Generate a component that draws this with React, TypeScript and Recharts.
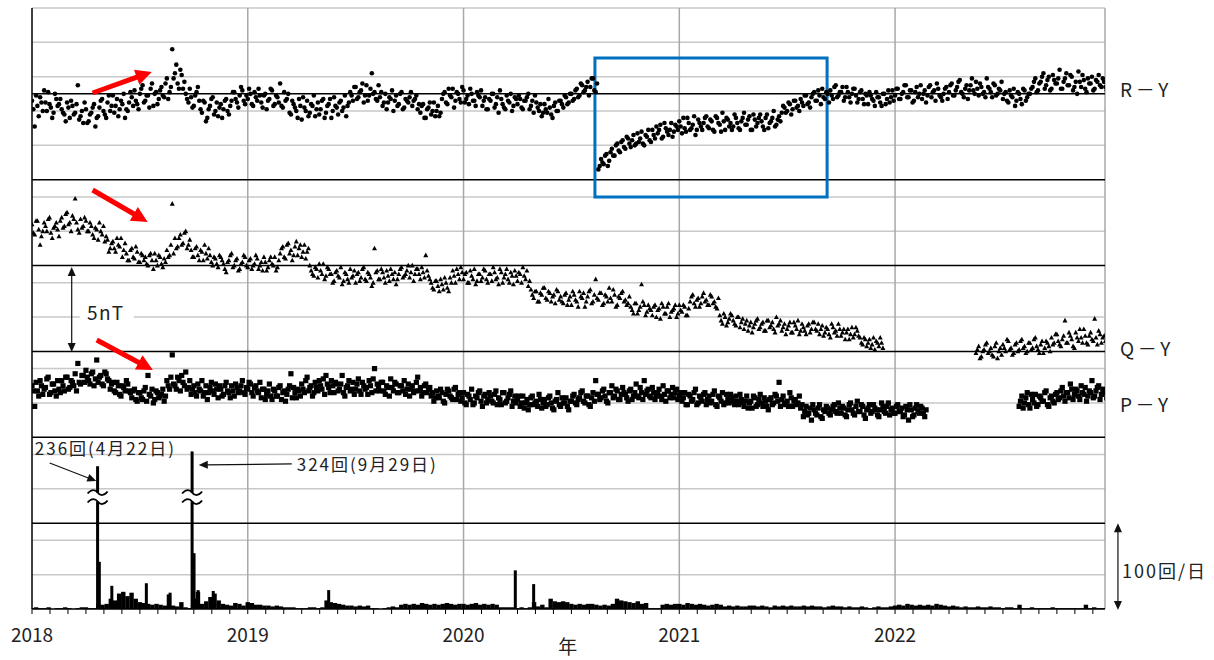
import {
  Bar,
  CartesianGrid,
  ComposedChart,
  ReferenceArea,
  ReferenceDot,
  ReferenceLine,
  Scatter,
  XAxis,
  YAxis,
} from "recharts";

const FONT = '"Noto Sans CJK JP", "Noto Sans", sans-serif';
const YEARS = ["2018", "2019", "2020", "2021", "2022"];
const X_MIN = 2018;
const X_MAX = 2022.973;
const STEP = 1 / 80; // one sample every ~4.6 days, "b" lists sit half a step later

// differences in 0.1 nT, already shifted to their plotting offset (1 grid = 1 nT)
const rY = [
  296, 281, 293, 298, 290, 295, 301, 292, 289, 297,
  294, 291, 288, 295, 286, 293, 289, 305, 287, 283,
  291, 284, 289, 294, 286, 292, 297, 288, 295, 290,
  299, 293, 287, 296, 300, 291, 295, 298, 302, 294,
  300, 305, 296, 299, 303, 293, 301, 297, 304, 298,
  309, 301, 326, 312, 306, 314, 303, 300, 295, 298,
  293, 301, 296, 289, 295, 286, 293, 298, 290, 287,
  294, 291, 297, 288, 296, 301, 295, 299, 302, 294,
  297, 300, 293, 298, 303, 295, 299, 291, 297, 302,
  294, 298, 306, 292, 296, 300, 288, 294, 290, 297,
  285, 292, 296, 289, 293, 287, 295, 291, 297, 289,
  294, 286, 298, 292, 295, 290, 299, 293, 301, 296,
  304, 298, 302, 295, 305, 299, 312, 301, 296, 298,
  293, 300, 295, 297, 290, 299, 294, 301, 292, 296,
  298, 293, 297, 291, 289, 294, 286, 292, 288, 295,
  290, 287, 297, 301, 294, 299, 303, 296, 300, 295,
  302, 297, 294, 300, 296, 301, 298, 293, 298, 291,
  296, 300, 294, 289, 297, 292, 299, 295, 290, 298,
  294, 297, 291, 296, 300, 293, 289, 295, 290, 287,
  294, 289, 292, 286, 295, 290, 296, 292, 298, 295,
  300, 297, 303, 299, 305, 302, 307, 304, 309, 301,
  256, 262, 259, 265, 261, 268, 264, 271, 266, 273,
  268, 274, 269, 276, 271, 272, 278, 270, 275, 273,
  279, 274, 277, 282, 275, 280, 276, 283, 278, 281,
  284, 277, 280, 286, 279, 282, 276, 285, 281, 283,
  287, 280, 284, 278, 286, 282, 289, 279, 285, 283,
  281, 286, 280, 284, 289, 282, 287, 279, 285, 283,
  288, 281, 286, 280, 284, 290, 282, 287, 289, 292,
  290, 294, 291, 296, 293, 297, 293, 299, 295, 298,
  301, 296, 299, 303, 297, 300, 302, 297, 305, 299,
  301, 296, 304, 298, 300, 303, 295, 301, 297, 300,
  294, 299, 296, 301, 298, 293, 300, 297, 295, 302,
  299, 303, 297, 301, 305, 298, 302, 296, 304, 300,
  297, 302, 299, 305, 301, 296, 303, 298, 300, 304,
  301, 306, 299, 304, 308, 300, 303, 297, 305, 302,
  307, 299, 304, 301, 309, 303, 298, 305, 300, 302,
  297, 301, 295, 299, 303, 296, 300, 294, 302, 298,
  300, 304, 309, 302, 307, 312, 305, 310, 303, 308,
  306, 314, 303, 309, 305, 311, 302, 307, 313, 304,
  308, 301, 306, 310, 303, 307, 305, 309, 304,
];
const rYb = [
  291, 299, 287, 295, 302, 290, 294, 286, 300, 293,
  297, 289, 284, 292, 296, 288, 294, 285, 290, 295,
  283, 288, 292, 281, 287, 296, 290, 286, 299, 293,
  289, 297, 291, 294, 286, 290, 301, 293, 296, 291,
  303, 295, 299, 292, 306, 300, 294, 302, 299, 306,
  297, 304, 309, 317, 303, 311, 307, 297, 303, 292,
  299, 304, 291, 296, 284, 291, 297, 288, 295, 292,
  286, 296, 290, 293, 301, 297, 292, 304, 296, 299,
  303, 294, 301, 296, 299, 292, 300, 296, 303, 293,
  299, 295, 293, 301, 297, 289, 296, 292, 286, 293,
  298, 290, 287, 294, 299, 291, 288, 296, 286, 293,
  297, 290, 293, 288, 296, 292, 287, 295, 299, 304,
  297, 301, 306, 299, 296, 303, 300, 297, 305, 301,
  295, 291, 298, 302, 296, 293, 300, 291, 297, 295,
  301, 296, 299, 294, 293, 286, 291, 295, 290, 287,
  293, 289, 300, 295, 303, 298, 292, 301, 297, 304,
  295, 299, 303, 296, 293, 299, 302, 296, 291, 297,
  300, 292, 298, 302, 294, 291, 296, 300, 293, 297,
  299, 292, 296, 298, 291, 296, 299, 292, 294, 289,
  291, 297, 288, 293, 290, 296, 294, 299, 294, 300,
  296, 302, 298, 306, 301, 304, 299, 309, 302, 306,
  258, 260, 264, 258, 266, 264, 270, 267, 272, 269,
  275, 271, 273, 270, 277, 274, 271, 276, 279, 272,
  276, 281, 279, 274, 283, 278, 279, 275, 282, 279,
  281, 286, 278, 283, 280, 287, 279, 283, 279, 286,
  281, 285, 279, 287, 283, 278, 284, 286, 281, 279,
  288, 283, 279, 286, 282, 285, 279, 288, 281, 286,
  284, 279, 288, 283, 286, 281, 285, 284, 293, 289,
  295, 288, 296, 292, 290, 295, 299, 294, 292, 300,
  296, 302, 294, 298, 301, 295, 299, 304, 298, 301,
  304, 298, 301, 295, 303, 299, 297, 302, 294, 299,
  301, 297, 293, 298, 295, 300, 294, 302, 298, 296,
  303, 297, 300, 305, 298, 302, 295, 301, 298, 305,
  300, 295, 304, 298, 302, 306, 299, 296, 303, 297,
  305, 299, 302, 307, 301, 298, 305, 302, 309, 300,
  303, 306, 300, 298, 304, 301, 306, 299, 303, 307,
  300, 296, 302, 298, 293, 301, 297, 303, 296, 300,
  303, 307, 301, 306, 310, 303, 308, 302, 311, 306,
  309, 303, 307, 312, 305, 310, 304, 300, 307, 311,
  303, 309, 306, 302, 308, 311, 304, 307, 302,
];

const qYStart1 = 2018;
const qY1 = [
  224, 218, 226, 212, 220, 223, 227, 219, 222, 225,
  217, 228, 223, 231, 225, 229, 239, 221, 227, 223,
  226, 220, 223, 216, 221, 225, 218, 214, 215, 210,
  214, 208, 212, 216, 209, 207, 203, 210, 204, 208,
  202, 206, 205, 200, 207, 198, 203, 206, 201, 204,
  209, 206, 236, 216, 211, 218, 213, 220, 212, 209,
  205, 211, 203, 208, 212, 204, 206, 200, 204, 199,
  205, 201, 196, 203, 207, 200, 204, 198, 202, 205,
  199, 204, 200, 206, 198, 202, 205, 197, 203, 201,
  205, 199, 207, 211, 204, 213, 209, 206, 214, 210,
  205, 212, 208, 200, 195, 199, 193, 197, 201, 194,
  198, 195, 191, 197, 193, 189, 196, 192, 198, 194,
  190, 196, 193, 199, 191, 195, 188, 210, 197, 192,
  196, 190, 194, 198, 192, 189, 195, 199, 194, 197,
  193, 200, 195, 198, 192, 196, 206, 194, 190, 186,
  191, 185, 189, 193, 187, 193, 197, 190, 195, 199,
  192, 196, 190, 194, 198, 191, 195, 193, 197, 190,
  195, 199, 192, 189, 196, 193, 198, 190, 194, 197,
  191, 195, 199, 192, 188, 186, 181, 185, 179, 183,
  187, 180, 184, 182, 178, 185, 182, 178, 184, 180,
  177, 183, 179, 185, 181, 176, 182, 186, 179, 192,
  180, 184, 178, 182, 187, 179, 183, 177, 181, 185,
  180, 178, 176, 172, 178, 174, 189, 177, 173, 175,
  171, 177, 174, 169, 176, 172, 178, 173, 175, 170,
  177, 173, 176, 171, 179, 183, 176, 181, 178, 184,
  180, 177, 182, 179, 175, 171, 166, 170, 167, 172,
  168, 165, 170, 167, 163, 168, 165, 161, 166, 169,
  164, 167, 162, 168, 165, 163, 170, 166, 162, 166,
  163, 167, 161, 165, 168, 162, 164, 160, 166, 163,
  167, 162, 160, 165, 161, 163, 158, 164, 162, 166,
  159, 163, 161, 157, 164, 160, 162, 158, 154, 157,
  155, 152, 158, 156, 153, 155,
];
const qY1b = [
  219, 226, 221, 217, 225, 220, 228, 216, 223, 221,
  226, 222, 230, 224, 220, 227, 225, 219, 222, 228,
  220, 225, 218, 222, 215, 220, 223, 217, 208, 213,
  210, 216, 211, 205, 213, 203, 209, 205, 211, 202,
  207, 203, 201, 206, 203, 207, 200, 205, 199, 202,
  205, 212, 207, 210, 216, 212, 219, 210, 215, 205,
  210, 206, 209, 203, 207, 210, 202, 205, 201, 206,
  203, 198, 202, 206, 199, 203, 197, 201, 206, 200,
  203, 198, 201, 204, 200, 197, 202, 199, 205, 200,
  197, 203, 210, 205, 212, 207, 203, 211, 206, 212,
  208, 204, 210, 197, 194, 198, 201, 195, 192, 199,
  195, 190, 196, 194, 199, 191, 195, 190, 193, 197,
  195, 191, 198, 192, 196, 193, 190, 196, 192, 198,
  193, 197, 191, 195, 196, 192, 198, 193, 195, 200,
  196, 191, 198, 195, 199, 193, 197, 192, 187, 191,
  188, 192, 186, 190, 185, 190, 194, 198, 192, 196,
  195, 190, 197, 192, 189, 195, 191, 198, 192, 195,
  191, 196, 193, 198, 190, 195, 192, 196, 189, 194,
  196, 190, 194, 197, 191, 183, 185, 179, 184, 187,
  181, 185, 179, 183, 186, 180, 179, 183, 177, 182,
  185, 180, 176, 182, 184, 179, 185, 178, 183, 181,
  184, 177, 183, 179, 181, 186, 176, 182, 184, 179,
  177, 182, 174, 178, 172, 176, 179, 171, 177, 174,
  176, 170, 175, 178, 172, 176, 170, 174, 177, 172,
  174, 177, 171, 175, 182, 178, 180, 176, 182, 179,
  177, 183, 178, 176, 181, 168, 172, 165, 169, 171,
  166, 170, 164, 169, 166, 162, 167, 164, 168, 163,
  166, 162, 168, 164, 167, 161, 165, 168, 164, 160,
  165, 161, 167, 163, 160, 166, 162, 165, 161, 167,
  163, 166, 163, 159, 164, 160, 166, 161, 159, 163,
  161, 157, 163, 160, 158, 164, 159, 155, 158, 153,
  157, 154, 151, 155, 158, 152,
];

const qYStart2 = 2022.375;
const qY2 = [
  149, 153, 147, 151, 155, 150, 148, 153, 146, 152,
  154, 150, 156, 152, 149, 155, 151, 157, 153, 150,
  155, 152, 158, 151, 154, 149, 156, 153, 158, 155,
  160, 154, 157, 168, 155, 159, 153, 161, 156, 158,
  163, 155, 159, 157, 169, 154, 160, 158, 156,
];
const qY2b = [
  151, 146, 150, 154, 149, 152, 147, 155, 150, 148,
  152, 157, 151, 148, 154, 150, 156, 152, 149, 155,
  151, 157, 153, 149, 156, 152, 155, 150, 154, 160,
  156, 153, 159, 155, 161, 157, 152, 158, 163, 155,
  159, 154, 161, 156, 158, 162, 155, 159, 161,
];

const pYStart1 = 2018;
const pY1 = [
  130, 118, 127, 133, 125, 129, 135, 126, 131, 124,
  128, 133, 127, 135, 129, 132, 137, 143, 131, 136,
  139, 133, 137, 130, 145, 135, 131, 138, 134, 128,
  132, 126, 130, 124, 129, 133, 127, 123, 128, 121,
  126, 122, 129, 136, 124, 120, 127, 123, 125, 121,
  133, 128, 148, 130, 135, 127, 132, 138, 129, 125,
  130, 124, 128, 133, 126, 122, 129, 127, 131, 123,
  128, 125, 132, 126, 130, 124, 129, 127, 133, 125,
  128, 131, 124, 130, 126, 123, 128, 125, 131, 122,
  127, 124, 130, 126, 121, 128, 137, 129, 123, 127,
  131, 126, 135, 129, 124, 132, 127, 130, 134, 136,
  129, 133, 126, 131, 128, 136, 124, 130, 127, 132,
  128, 134, 125, 130, 129, 133, 126, 140, 131, 127,
  132, 125, 129, 134, 127, 131, 126, 130, 133, 128,
  124, 130, 127, 135, 129, 126, 131, 128, 124, 121,
  127, 123, 126, 120, 128, 124, 122, 129, 125, 121,
  126, 119, 124, 128, 120, 123, 127, 118, 125, 122,
  124, 120, 127, 123, 119, 126, 121, 125, 118, 124,
  122, 118, 124, 120, 116, 123, 119, 121, 125, 117,
  122, 119, 124, 117, 121, 126, 118, 120, 123, 116,
  121, 125, 119, 123, 127, 120, 124, 118, 126, 133,
  125, 123, 128, 121, 126, 130, 124, 127, 122, 129,
  125, 121, 128, 124, 131, 123, 126, 133, 127, 124,
  129, 122, 126, 124, 130, 121, 127, 125, 123, 128,
  124, 121, 126, 119, 124, 122, 128, 120, 123, 125,
  119, 124, 121, 127, 118, 123, 126, 120, 122, 125,
  121, 124, 119, 122, 118, 124, 120, 117, 123, 119,
  125, 118, 121, 116, 123, 120, 124, 132, 122, 119,
  121, 126, 118, 122, 120, 117, 112, 118, 114, 110,
  116, 113, 119, 111, 115, 117, 113, 118, 115, 120,
  114, 117, 112, 119, 116, 113, 121, 115, 118, 111,
  117, 114, 119, 116, 112, 120, 115, 118, 113, 117,
  114, 119, 115, 112, 118, 110, 116, 113, 119, 114,
  117, 112,
];
const pY1b = [
  127, 132, 124, 130, 128, 134, 125, 131, 127, 133,
  126, 130, 135, 128, 133, 130, 127, 132, 136, 132,
  135, 131, 138, 134, 132, 136, 130, 137, 133, 131,
  127, 132, 125, 130, 127, 131, 126, 127, 122, 126,
  123, 127, 121, 125, 128, 122, 126, 124, 128, 124,
  130, 135, 131, 128, 133, 136, 130, 128, 133, 128,
  126, 131, 127, 124, 130, 126, 132, 125, 128, 130,
  124, 130, 127, 123, 127, 131, 126, 130, 126, 129,
  132, 126, 129, 127, 132, 128, 122, 127, 124, 128,
  124, 129, 122, 127, 125, 130, 123, 126, 128, 124,
  128, 133, 127, 130, 126, 129, 133, 128, 125, 131,
  126, 130, 132, 127, 131, 126, 129, 133, 128, 125,
  131, 127, 132, 128, 125, 130, 134, 127, 129, 132,
  127, 130, 124, 129, 132, 126, 130, 127, 125, 131,
  128, 126, 132, 127, 124, 130, 126, 129, 126, 123,
  124, 128, 121, 125, 127, 123, 128, 122, 126, 123,
  120, 125, 122, 119, 124, 126, 121, 124, 120, 126,
  121, 125, 119, 122, 126, 120, 123, 127, 121, 120,
  124, 120, 117, 122, 119, 124, 120, 118, 122, 120,
  118, 123, 120, 116, 122, 119, 123, 120, 118, 121,
  124, 120, 122, 126, 121, 124, 119, 123, 121, 125,
  122, 127, 124, 120, 126, 123, 128, 122, 125, 126,
  123, 127, 122, 126, 124, 129, 122, 125, 128, 123,
  126, 124, 128, 122, 125, 127, 123, 129, 126, 122,
  126, 123, 119, 125, 121, 126, 119, 124, 121, 126,
  122, 120, 125, 119, 124, 121, 119, 125, 120, 123,
  119, 121, 125, 120, 121, 117, 121, 124, 118, 122,
  120, 123, 118, 122, 119, 125, 121, 118, 124, 120,
  118, 123, 121, 119, 124, 119, 115, 113, 117, 119,
  114, 117, 112, 116, 118, 114, 116, 119, 114, 117,
  118, 113, 116, 120, 114, 118, 115, 119, 113, 116,
  119, 115, 117, 113, 116, 118, 114, 120, 116, 114,
  118, 115, 117, 113, 116, 119, 112, 117, 115, 118,
  114, 116,
];

const pYStart2 = 2022.575;
const pY2 = [
  118, 124, 120, 126, 117, 122, 125, 119, 123, 121,
  127, 118, 124, 120, 126, 123, 129, 121, 126, 131,
  122, 128, 124, 130, 125, 121, 127, 133, 124, 129,
  122, 128, 126,
];
const pY2b = [
  121, 117, 123, 119, 125, 120, 118, 124, 121, 126,
  119, 123, 121, 125, 122, 127, 124, 126, 123, 128,
  125, 127, 122, 126, 129, 124, 126, 123, 127, 130,
  125, 127, 123,
];

// earthquakes per day, one reading per week from 2018.0
const weeklyCounts = [
  1, 2, 1, 1, 2, 0, 1, 1, 2, 1, 0, 1, 2, 2, 1, 1,
  6, 5, 6, 12, 10, 18, 20, 15, 19, 12,
  8, 7, 6, 5, 6, 5, 4, 17, 4, 3,
  8, 2, 1, 12, 20, 6, 9, 14, 18, 10,
  6, 5, 4, 7, 6, 4,
  8, 7, 5, 5, 4, 4, 3, 4, 3, 2,
  2, 2, 1, 1, 1, 2, 2, 1, 2, 10,
  8, 7, 6, 5, 4, 4, 3, 4, 3, 4,
  1, 1, 0, 1, 2, 3, 2, 5, 6, 5,
  6, 5, 7, 6, 5, 6, 5, 6, 7, 6, 5, 6,
  6, 5, 6, 7, 5, 6, 5, 6, 5, 2,
  2, 2, 2, 1, 2, 1, 2, 8, 3, 5,
  2, 12, 9, 8, 9, 8, 6, 5, 6, 5,
  6, 6, 5, 4, 5, 4, 6, 12, 10, 9,
  8, 7, 9, 6, 7, 1, 1, 1, 5, 6, 5, 6,
  6, 5, 7, 6, 5, 6, 5, 4, 5, 6, 5,
  3, 4, 3, 4, 3, 3, 4, 4, 3, 4, 3, 2, 4, 3, 4,
  3, 4, 3, 3, 4, 3, 4, 3, 3, 2, 3, 4, 3, 3,
  2, 3, 2, 2, 3, 2, 1, 2, 3, 2, 2, 3,
  4, 5, 4, 6, 5, 4, 5, 4, 5, 4, 6, 5, 4, 3, 4, 3,
  2, 3, 2, 2, 3, 2, 2, 3, 2, 2, 1, 2, 2, 1,
  5,
  1, 1, 2, 1, 1, 1, 1, 2, 1, 1, 1, 1, 1, 1, 1,
  5,
  1, 2, 1, 1,
];

const bigDays = [
  { date: 2018.304, count: 236 },
  { date: 2018.312, count: 55 },
  { date: 2018.37, count: 27 },
  { date: 2018.53, count: 30 },
  { date: 2018.64, count: 19 },
  { date: 2018.742, count: 324 },
  { date: 2018.751, count: 65 },
  { date: 2018.77, count: 22 },
  { date: 2018.84, count: 21 },
  { date: 2019.375, count: 22 },
  { date: 2020.24, count: 45 },
  { date: 2020.325, count: 29 },
];
const brokenDays = bigDays.filter((d) => d.count > 120);

// 100 per day = 5 grid units; the two big days are drawn past an axis break
const shown = (c: number) => (c <= 120 ? c / 20 : 6 + c / 102);

const barRows = [
  ...weeklyCounts.map((c, i) => ({ x: 2018 + i / 52, h: shown(c), wide: true })),
  ...bigDays.map((d) => ({ x: d.date, h: shown(d.count), wide: false })),
].sort((a, b) => a.x - b.x);

const pts = (start: number, vals: number[]) => vals.map((v, i) => ({ x: start + i * STEP, y: v / 10 }));
const half = STEP / 2;

const MONTH_TICKS = Array.from({ length: 60 }, (_, k) => 2018 + k / 12);
const MINOR = Array.from({ length: 36 }, (_, k) => k).filter((k) => k % 5 !== 0 || k === 35);

const DotShape = (p: any) => <circle cx={p.cx} cy={p.cy} r={2.3} fill="#000" />;
const TriShape = (p: any) => (
  <path d={`M${p.cx},${p.cy - 2.7}L${p.cx + 2.5},${p.cy + 1.9}L${p.cx - 2.5},${p.cy + 1.9}Z`} fill="#000" />
);
const SqShape = (p: any) => <rect x={p.cx - 2.6} y={p.cy - 2.6} width={5.2} height={5.2} fill="#000" />;
const BarShape = (p: any) => {
  if (!(p.height > 0)) return <g />;
  const w = p.payload && p.payload.wide ? 4.4 : 3;
  return <rect x={p.x + p.width / 2 - w / 2} y={p.y} width={w} height={p.height} fill="#000" />;
};

function arrow(color: string, width: number, head: number, halfW: number, both = false) {
  return (p: any) => {
    const { x1, y1, x2, y2 } = p;
    const len = Math.hypot(x2 - x1, y2 - y1) || 1;
    const ux = (x2 - x1) / len;
    const uy = (y2 - y1) / len;
    const tip = (x: number, y: number, sx: number, sy: number) =>
      `M${x},${y}L${x - sx * head - sy * halfW},${y - sy * head + sx * halfW}L${x - sx * head + sy * halfW},${y - sy * head - sx * halfW}Z`;
    const back = head * 0.8;
    return (
      <g>
        <line
          x1={both ? x1 + ux * back : x1}
          y1={both ? y1 + uy * back : y1}
          x2={x2 - ux * back}
          y2={y2 - uy * back}
          stroke={color}
          strokeWidth={width}
        />
        <path d={tip(x2, y2, ux, uy)} fill={color} />
        {both && <path d={tip(x1, y1, -ux, -uy)} fill={color} />}
      </g>
    );
  };
}

function note(text: string, size: number, anchor: "start" | "middle" = "start", spacing = 1, box = false) {
  return (p: any) => (
    <g>
      {box && <rect x={p.cx - 26} y={p.cy - 12} width={54} height={24} fill="#fff" />}
      <text
        x={p.cx}
        y={p.cy}
        dominantBaseline="central"
        textAnchor={anchor}
        fontSize={size}
        fontFamily={FONT}
        letterSpacing={spacing}
        fill="#222"
      >
        {text}
      </text>
    </g>
  );
}

const BreakMark = (p: any) => {
  const { cx, cy } = p;
  const wave = (y: number) =>
    `M${cx - 10},${y + 1}C${cx - 6},${y - 4} ${cx - 2},${y - 3} ${cx},${y}C${cx + 2},${y + 3} ${cx + 6},${y + 4} ${cx + 10},${y - 1}`;
  return (
    <g>
      <rect x={cx - 4} y={cy - 4.5} width={8} height={9} fill="#fff" />
      <path d={wave(cy - 4.5)} stroke="#000" strokeWidth={1.8} fill="none" />
      <path d={wave(cy + 4.5)} stroke="#000" strokeWidth={1.8} fill="none" />
    </g>
  );
};

const RED = arrow("#ff0000", 5, 16, 8);
const THIN = arrow("#111", 1.2, 9, 4);
const THIN2 = arrow("#111", 1.2, 9, 4, true);

export default function App() {
  return (
    <div style={{ position: "absolute", left: 0, top: 0, width: 1214, height: 660, background: "#fff" }}>
      <ComposedChart
        width={1214}
        height={660}
        data={barRows}
        margin={{ top: 8, right: 109, bottom: 21, left: 32 }}
      >
        <CartesianGrid horizontalValues={MINOR} vertical={false} stroke="#c8c8c8" strokeWidth={1.5} />
        <CartesianGrid verticalValues={[2019, 2020, 2021, 2022, X_MAX]} horizontal={false} stroke="#a8a8a8" strokeWidth={1.5} />
        <CartesianGrid horizontalValues={[5, 10, 15, 20, 25, 30]} verticalValues={[X_MIN]} stroke="#000" strokeWidth={1.5} />
        <XAxis
          type="number"
          dataKey="x"
          domain={[X_MIN, X_MAX]}
          allowDataOverflow
          ticks={MONTH_TICKS}
          interval={0}
          tickFormatter={(v: number) => {
            const k = Math.round((v - 2018) * 12);
            return k % 12 === 0 ? YEARS[k / 12] : "";
          }}
          tickSize={5}
          tickMargin={15}
          height={30}
          axisLine={{ stroke: "#000", strokeWidth: 1.5 }}
          tickLine={{ stroke: "#000" }}
          tick={{ fontSize: 19, fill: "#222", fontFamily: FONT }}
        />
        <YAxis hide type="number" dataKey="y" domain={[0, 35]} allowDataOverflow width={0} />

        <Bar dataKey="h" fill="#000" barSize={3} shape={BarShape} isAnimationActive={false} />
        <Scatter data={pts(2018, rY)} shape={DotShape} isAnimationActive={false} />
        <Scatter data={pts(2018 + half, rYb)} shape={DotShape} isAnimationActive={false} />
        <Scatter data={pts(qYStart1, qY1)} shape={TriShape} isAnimationActive={false} />
        <Scatter data={pts(qYStart1 + half, qY1b)} shape={TriShape} isAnimationActive={false} />
        <Scatter data={pts(qYStart2, qY2)} shape={TriShape} isAnimationActive={false} />
        <Scatter data={pts(qYStart2 + half, qY2b)} shape={TriShape} isAnimationActive={false} />
        <Scatter data={pts(pYStart1, pY1)} shape={SqShape} isAnimationActive={false} />
        <Scatter data={pts(pYStart1 + half, pY1b)} shape={SqShape} isAnimationActive={false} />
        <Scatter data={pts(pYStart2, pY2)} shape={SqShape} isAnimationActive={false} />
        <Scatter data={pts(pYStart2 + half, pY2b)} shape={SqShape} isAnimationActive={false} />

        {brokenDays.map((d) => (
          <ReferenceDot key={d.date} x={d.date} y={6.52} ifOverflow="visible" shape={BreakMark} />
        ))}

        <ReferenceArea
          x1={2020.609}
          x2={2021.685}
          y1={24.0}
          y2={32.09}
          fill="none"
          fillOpacity={0}
          stroke="#0070c0"
          strokeWidth={3}
          ifOverflow="visible"
        />

        <ReferenceLine segment={[{ x: 2018.281, y: 30.05 }, { x: 2018.555, y: 31.28 }]} ifOverflow="visible" shape={RED} />
        <ReferenceLine segment={[{ x: 2018.281, y: 24.4 }, { x: 2018.536, y: 22.54 }]} ifOverflow="visible" shape={RED} />
        <ReferenceLine segment={[{ x: 2018.3, y: 15.67 }, { x: 2018.56, y: 13.92 }]} ifOverflow="visible" shape={RED} />

        <ReferenceLine segment={[{ x: 2018.184, y: 19.92 }, { x: 2018.184, y: 14.97 }]} ifOverflow="visible" shape={THIN2} />
        <ReferenceDot x={2018.342} y={17.3} ifOverflow="visible" shape={note("5nT", 19, "middle", 1.5, true)} />

        <ReferenceDot x={2018.013} y={9.38} ifOverflow="visible" shape={note("236回(4月22日)", 17, "start", 2)} />
        <ReferenceLine segment={[{ x: 2018.082, y: 8.5 }, { x: 2018.298, y: 7.45 }]} ifOverflow="visible" shape={THIN} />
        <ReferenceDot x={2019.227} y={8.5} ifOverflow="visible" shape={note("324回(9月29日)", 17, "start", 2)} />
        <ReferenceLine segment={[{ x: 2019.204, y: 8.45 }, { x: 2018.773, y: 8.39 }]} ifOverflow="visible" shape={THIN} />

        <ReferenceLine segment={[{ x: 2023.033, y: 5 }, { x: 2023.033, y: -0.06 }]} ifOverflow="visible" shape={THIN2} />
        <ReferenceDot x={2023.052} y={2.27} ifOverflow="visible" shape={note("100回/日", 18, "start", 2)} />

        <ReferenceDot x={2023.043} y={30.34} ifOverflow="visible" shape={note("R－Y", 19, "start", 3.5)} />
        <ReferenceDot x={2023.043} y={15.2} ifOverflow="visible" shape={note("Q－Y", 19, "start", 3.5)} />
        <ReferenceDot x={2023.043} y={11.94} ifOverflow="visible" shape={note("P－Y", 19, "start", 3.5)} />

        <ReferenceDot x={2020.483} y={-2.12} ifOverflow="visible" shape={note("年", 19, "middle", 0)} />
      </ComposedChart>
    </div>
  );
}
